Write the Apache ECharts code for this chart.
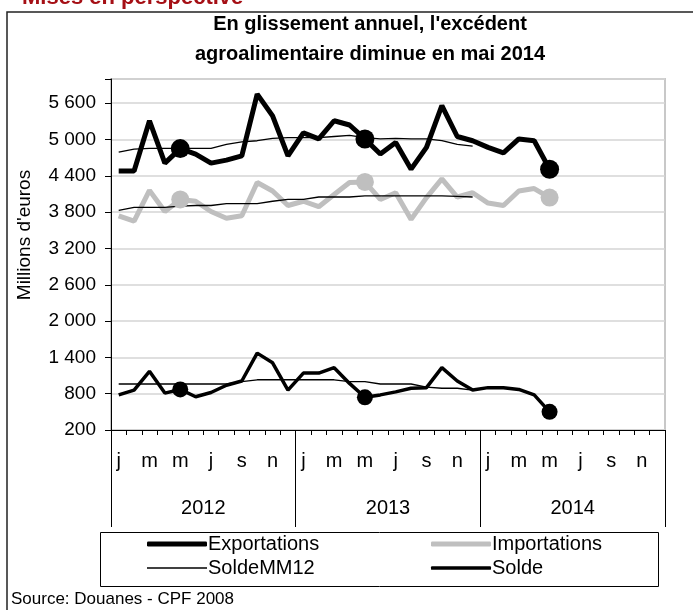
<!DOCTYPE html>
<html>
<head>
<meta charset="utf-8">
<title>Excédent agroalimentaire</title>
<script src="https://cdn.jsdelivr.net/npm/echarts@6/dist/echarts.min.js"></script>
<style>
html,body{margin:0;padding:0;background:#fff;}
#chart{width:693px;height:610px;}
</style>
</head>
<body>
<div id="chart"></div>
<script>
//mois et années
var mois = ['j','f','m','a','m','j','j','a','s','o','n','d'];
var annees = ['2012','2013','2014'];
//axe vertical
var yMin = 200;
var yMax = 6000;
var yPas = 600;
//séries mensuelles, millions d'euros (janv. 2012 - mai 2014)
var exportations = [4480,4480,5310,4610,4850,4760,4610,4660,4730,5750,5390,4730,5110,5010,5310,5240,5010,4760,4950,4510,4870,5560,5050,4980,4870,4780,5010,4980,4510];
var importations = [3740,3650,4160,3810,4010,3980,3810,3700,3740,4290,4150,3910,3980,3890,4090,4290,4300,4010,4120,3680,4040,4350,4050,4120,3950,3910,4150,4190,4040];
var solde = [780,860,1170,810,870,750,820,940,1010,1470,1310,860,1140,1140,1230,970,740,780,830,890,900,1230,1010,860,900,900,870,780,500];
//moyennes mobiles sur 12 mois (jusqu'à déc. 2013)
var exportMM12 = [4790,4840,4855,4855,4855,4855,4855,4920,4960,4980,5020,5030,5030,5030,5050,5070,5030,5010,5020,5010,5010,4980,4920,4890];
var importMM12 = [3830,3880,3880,3880,3900,3910,3910,3940,3940,3940,3980,4010,4010,4050,4050,4050,4070,4070,4070,4070,4070,4070,4060,4050];
var soldeMM12 = [960,960,960,960,960,960,960,960,1000,1030,1030,1030,1030,1030,1030,1000,1000,960,960,960,910,890,890,860];

var categories = [];
for(var a=0;a<annees.length;a++){
	for(var m=0;m<mois.length;m++){
		categories.push(mois[m]);
	}
}

//gros point sur chaque mois de mai
function taillePoint(taille){
	return function(v,params){
		return params.dataIndex%12==4 ? taille : 0;
	};
}
//séparateur des milliers
function milliers(v){
	if(v==yMax) return '';
	return String(v).replace(/\B(?=(\d{3})+(?!\d))/g,' ');
}

function serie(nom,data,couleur,largeur,point){
	return {
		name:nom,
		type:'line',
		data:data,
		color:couleur,
		symbol:'circle',
		showAllSymbol:true,
		symbolSize:point ? taillePoint(point) : 0,
		showSymbol:!!point,
		itemStyle:{color:couleur},
		lineStyle:{color:couleur,width:largeur},
		emphasis:{disabled:true},
		animation:false
	};
}

var police = 'Arial, "Liberation Sans", sans-serif';

function legende(nom,gauche,haut,epaisseur){
	return {
		data:[nom],
		left:gauche,
		top:haut,
		icon:epaisseur>2 ? 'roundRect' : 'rect',
		itemWidth:60,
		itemHeight:epaisseur,
		itemGap:0,
		padding:0,
		selectedMode:false,
		textStyle:{fontFamily:police,fontSize:20,color:'#000',padding:[0,0,0,-4]}
	};
}

var myChart = echarts.init(document.getElementById('chart'),null,{renderer:'canvas'});
var option = {
	animation:false,
	title:{
		text:"En glissement annuel, l'excédent\nagroalimentaire diminue en mai 2014",
		left:370,
		top:9,
		textAlign:'center',
		padding:0,
		textStyle:{fontFamily:police,fontSize:20,fontWeight:'bold',color:'#000',lineHeight:30}
	},
	legend:[
		legende('Exportations',147,534,5),
		legende('SoldeMM12',147,558,1.5),
		legende('Importations',431,534,5),
		legende('Solde',431,558,3.5)
	],
	grid:{left:111,right:28,top:79,bottom:180,show:true,borderColor:'#C8C8C8',borderWidth:2,containLabel:false},
	xAxis:[{
		type:'category',
		data:categories,
		boundaryGap:true,
		axisLine:{lineStyle:{color:'#000',width:1}},
		axisTick:{show:true,interval:0,length:5,lineStyle:{color:'#000'}},
		axisLabel:{interval:1,margin:21,fontFamily:police,fontSize:20,color:'#000'},
		splitLine:{show:false}
	},{
		type:'category',
		data:annees,
		position:'bottom',
		boundaryGap:true,
		axisLine:{show:false},
		axisTick:{show:true,length:97,lineStyle:{color:'#000'}},
		axisLabel:{margin:68,fontFamily:police,fontSize:20,color:'#000'},
		splitLine:{show:false}
	}],
	yAxis:{
		type:'value',
		min:yMin,
		max:yMax,
		interval:yPas,
		axisLine:{show:true,lineStyle:{color:'#000',width:1}},
		axisTick:{show:true,length:6,lineStyle:{color:'#000'}},
		axisLabel:{margin:15,fontFamily:police,fontSize:19,color:'#000',formatter:milliers},
		splitLine:{lineStyle:{color:'#D4D4D4',width:1.5}}
	},
	graphic:[
		//cadre
		{type:'rect',shape:{x:7,y:12,width:700,height:620},style:{fill:null,stroke:'#222',lineWidth:1.5},silent:true,z:-1},
		//cadre de la légende
		{type:'rect',shape:{x:100.5,y:532.5,width:558,height:54},style:{fill:'#fff',stroke:'#000',lineWidth:1},silent:true,z:-1},
		//titre de la page, coupé
		{type:'text',x:22,y:9,style:{text:'Mises en perspective',fill:'#A50F15',font:'bold 22px Arial, "Liberation Sans", sans-serif',align:'left',verticalAlign:'bottom'},silent:true},
		//nom de l'axe
		{type:'text',x:25,y:235,rotation:Math.PI/2,style:{text:"Millions d'euros",fill:'#000',font:'19px Arial, "Liberation Sans", sans-serif',align:'center',verticalAlign:'middle'},silent:true},
		//source
		{type:'text',x:11,y:599,style:{text:'Source: Douanes - CPF 2008',fill:'#000',font:'17px Arial, "Liberation Sans", sans-serif',align:'left',verticalAlign:'middle'},silent:true}
	],
	series:[
		serie('Exportations',exportations,'#000',5,19),
		serie('Importations',importations,'#BFBFBF',5,18),
		serie('ExportMM12',exportMM12,'#000',1.3,0),
		serie('ImportMM12',importMM12,'#000',1.3,0),
		serie('SoldeMM12',soldeMM12,'#000',1.3,0),
		serie('Solde',solde,'#000',3.5,16)
	]
};
myChart.setOption(option);
</script>
</body>
</html>
